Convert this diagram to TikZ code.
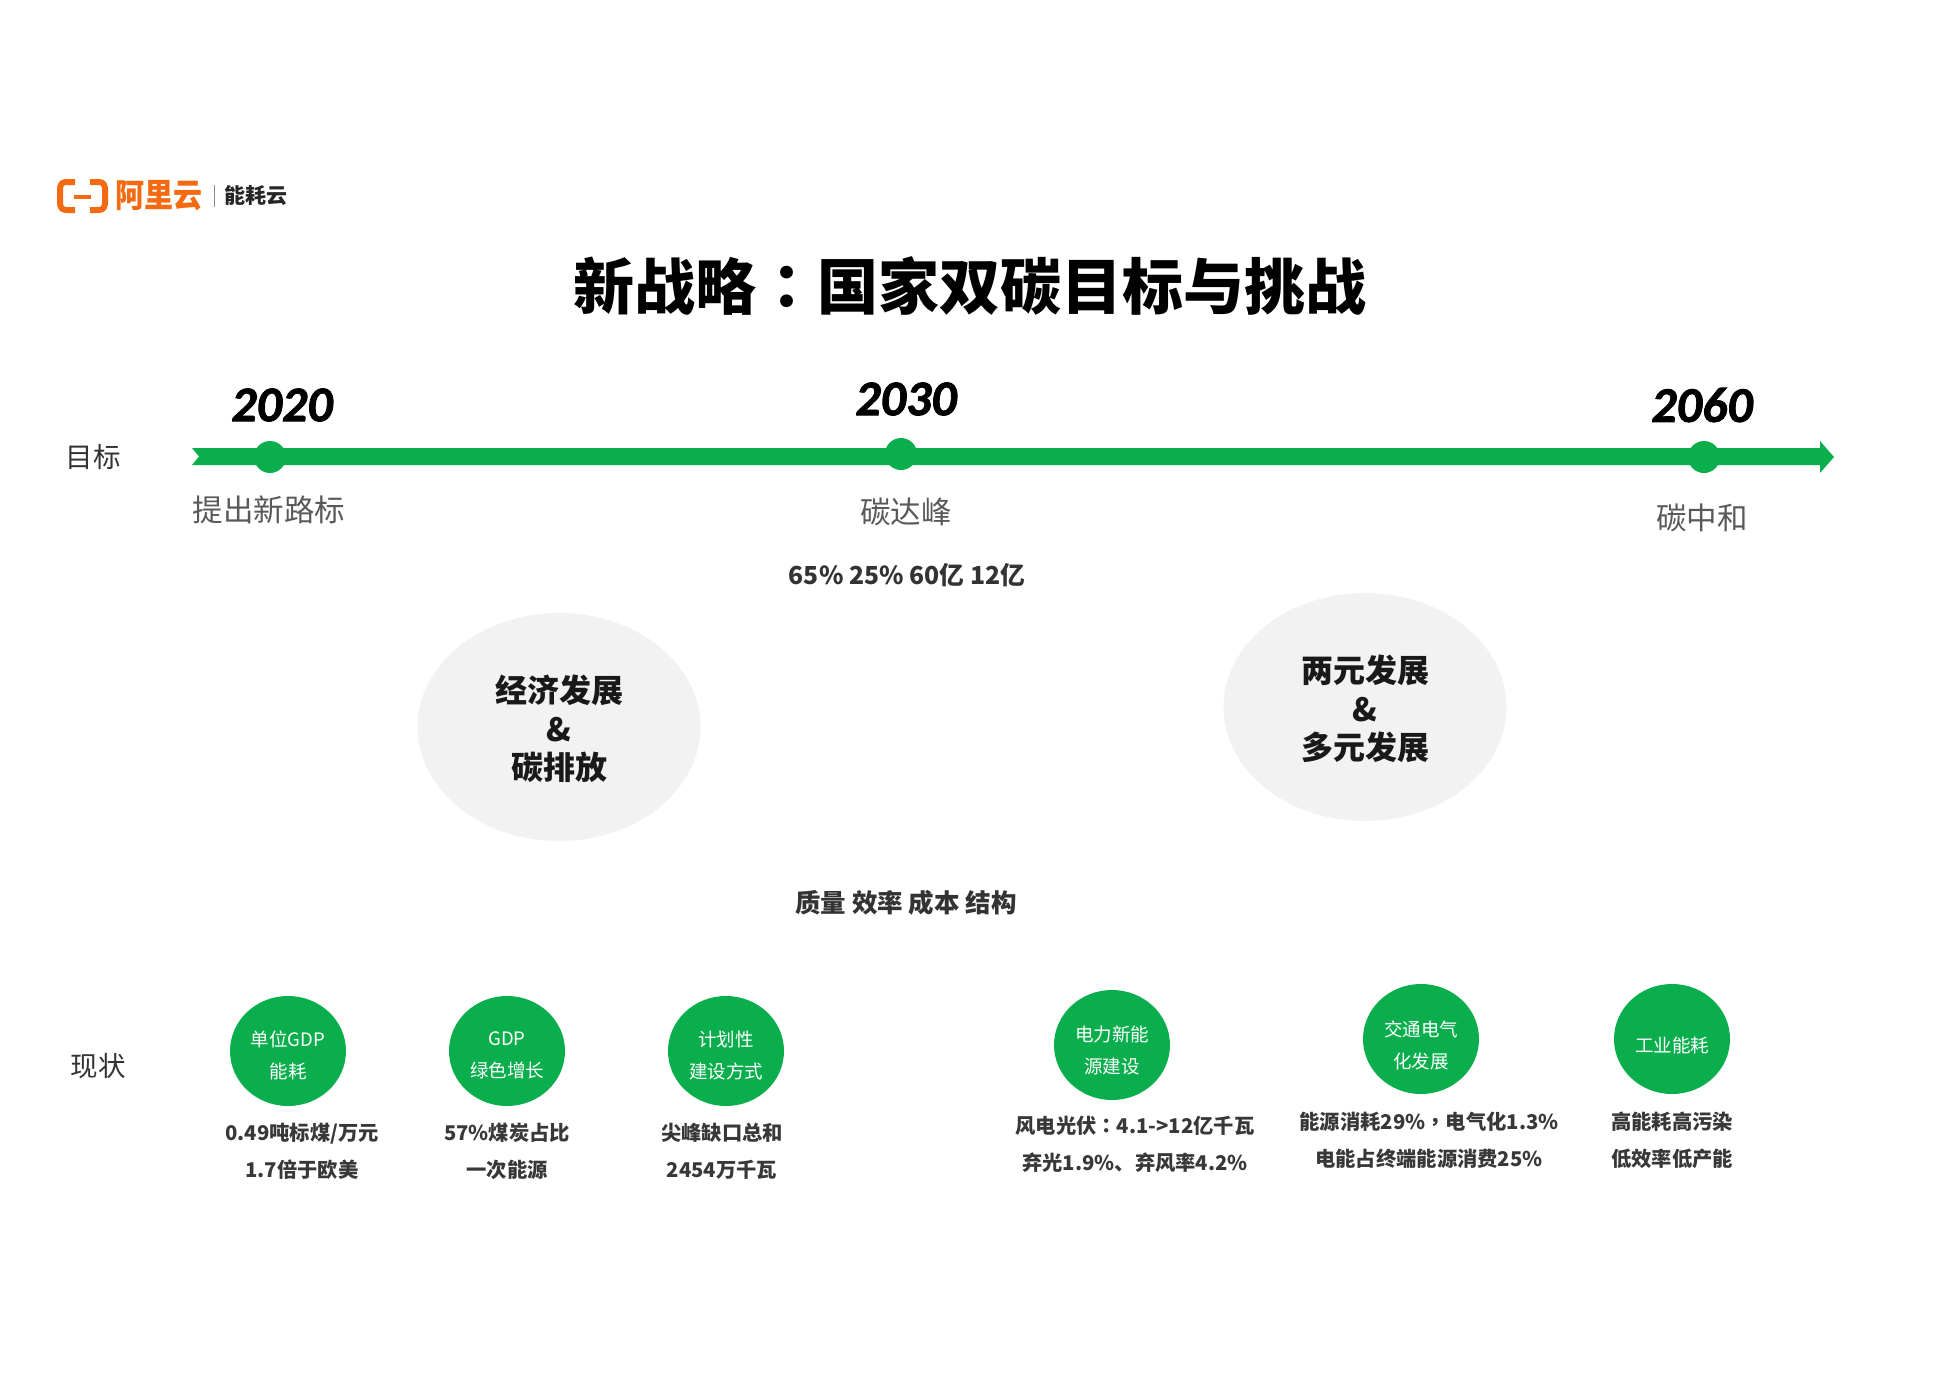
\documentclass[tikz,border=0pt]{standalone}
\usepackage{fontspec}
\usetikzlibrary{shapes.geometric}
\setmainfont{Noto Sans CJK SC}
\newfontfamily\punctfont{Noto Sans CJK TC}
\newfontfamily\yearfont[BoldItalicFeatures={FakeBold=1.6}]{Carlito}
\newcommand{\fs}[2]{\fontsize{#1pt}{#2pt}\selectfont}
\definecolor{brandgreen}{HTML}{0AAE4D}
\definecolor{softgray}{HTML}{F2F2F2}
\definecolor{logoorange}{HTML}{F26B12}
\tikzset{
  x=1pt,y=-1pt,
  every node/.style={inner sep=0pt,outer sep=0pt},
  logotext/.style={text=logoorange,font=\fs{33}{33}\bfseries,xscale=.88},
  brandtext/.style={text=black!85,font=\fs{21}{21}\bfseries},
  titletext/.style={text=black,font=\fs{61}{61}\bfseries},
  yeartext/.style={text=black,font=\yearfont\fs{50}{50}\bfseries\itshape},
  rowlabel/.style={text=black!80,font=\fs{27.5}{27.5}},
  milestone/.style={text=black!65,font=\fs{30.5}{30.5}},
  keynums/.style={text=black!80,font=\fs{24.8}{24.8}\bfseries},
  keywords/.style={text=black!80,font=\fs{25.5}{25.5}\bfseries},
  dotnode/.style={circle,fill=brandgreen,minimum size=32pt},
  bubble/.style={ellipse,fill=softgray,minimum width=283pt,minimum height=228pt},
  bubbletext/.style={align=center,text=black!90,font=\fs{32}{38.5}\bfseries},
  greenball/.style={ellipse,fill=brandgreen,minimum width=116pt,minimum height=110pt},
  balltext/.style={align=center,text=white,font=\fs{18.5}{32}},
  detail/.style={align=center,text=black!78,font=\fs{20.3}{37}\bfseries},
  bar/.style={fill=brandgreen},
  bracket/.style={draw=logoorange,line width=6pt,line join=round},
}
\begin{document}
\begin{tikzpicture}
\useasboundingbox (0,0) rectangle (1944,1374);
% logo
\draw[bracket] (75,182) -- (66,182) .. controls (61,182) and (60,186) .. (60,190) -- (60,202) .. controls (60,206) and (61,210) .. (66,210) -- (75,210);
\draw[bracket] (90,182) -- (99,182) .. controls (104,182) and (105,186) .. (105,190) -- (105,202) .. controls (105,206) and (104,210) .. (99,210) -- (90,210);
\draw[draw=logoorange,line width=4pt] (74,197) -- (91,197);
\node[logotext] (logoname) at (159,196) {阿里云};
\draw[draw=black!45,line width=1pt] (214,185) -- (214,207);
\node[brandtext] (brand) at (256,196) {能耗云};
% title
\node[titletext] (title) at (970,286) {新战略{\punctfont：}国家双碳目标与挑战};
% timeline
\fill[bar] (192,448) -- (1820,448) -- (1820,441) -- (1834,457) -- (1820,473) -- (1820,465) -- (192,465) -- (199,456.5) -- cycle;
\node[dotnode] (d2020) at (270,457) {};
\node[dotnode] (d2030) at (901,454) {};
\node[dotnode] (d2060) at (1704,457) {};
\node[yeartext] (y2020) at (282,405) {2020};
\node[yeartext] (y2030) at (906,399) {2030};
\node[yeartext] (y2060) at (1702,405) {2060};
\node[rowlabel] (goal) at (93,457) {目标};
\node[milestone] (m2020) at (269,510) {提出新路标};
\node[milestone] (m2030) at (906,512) {碳达峰};
\node[milestone] (m2060) at (1702,518) {碳中和};
\node[keynums] (nums) at (907,575) {65\% 25\% 60亿 12亿};
% bubbles
\node[bubble] (bl) at (559,727) {};
\node[bubbletext] (blt) at (559,729) {经济发展\\\&\\碳排放};
\node[bubble] (br) at (1365,707) {};
\node[bubbletext] (brt) at (1365,709) {两元发展\\\&\\多元发展};
\node[keywords] (qual) at (906,903) {质量 效率 成本 结构};
% status row
\node[rowlabel] (status) at (98,1066) {现状};
\node[greenball] (c1) at (288,1051) {};
\node[balltext] at (288,1055) (t1) {单位GDP\\能耗};
\node[greenball] (c2) at (507,1051) {};
\node[balltext] at (507,1055) (t2) {GDP\\绿色增长};
\node[greenball] (c3) at (726,1051) {};
\node[balltext] at (726,1055) (t3) {计划性\\建设方式};
\node[greenball] (c4) at (1112,1045) {};
\node[balltext] at (1112,1050) (t4) {电力新能\\源建设};
\node[greenball] (c5) at (1421,1039) {};
\node[balltext] at (1421,1045) (t5) {交通电气\\化发展};
\node[greenball] (c6) at (1672,1039) {};
\node[balltext] at (1672,1045) (t6) {工业能耗};
\node[detail] (e1) at (302,1151) {0.49吨标煤/万元\\1.7倍于欧美};
\node[detail] (e2) at (507,1151) {57\%煤炭占比\\一次能源};
\node[detail] (e3) at (722,1151) {尖峰缺口总和\\2454万千瓦};
\node[detail] (e4) at (1135,1144) {风电光伏{\punctfont：}4.1->12亿千瓦\\弃光1.9\%、弃风率4.2\%};
\node[detail] (e5) at (1429,1140) {能源消耗29\%{\punctfont，}电气化1.3\%\\电能占终端能源消费25\%};
\node[detail] (e6) at (1672,1140) {高能耗高污染\\低效率低产能};
\end{tikzpicture}
\end{document}
